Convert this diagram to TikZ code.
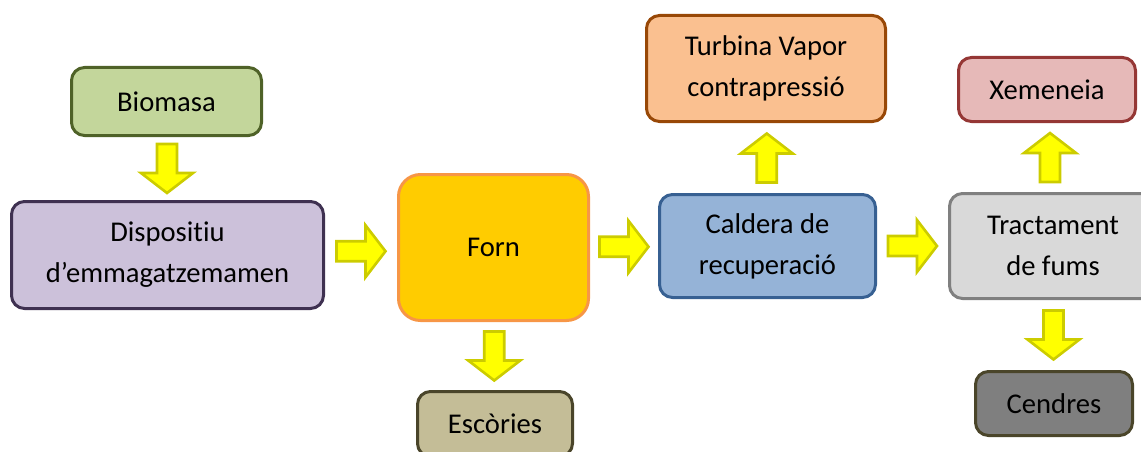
\documentclass[tikz,border=0pt]{standalone}
\usepackage{fontspec}
\setmainfont[Ligatures=NoCommon]{Carlito}
\usetikzlibrary{calc}

\definecolor{bioFill}{HTML}{C3D69B}\definecolor{bioLine}{HTML}{4F6228}
\definecolor{dispFill}{HTML}{CCC1DA}\definecolor{dispLine}{HTML}{3F3151}
\definecolor{fornFill}{HTML}{FFCC00}\definecolor{fornLine}{HTML}{F79646}
\definecolor{escFill}{HTML}{C4BD97}\definecolor{escLine}{HTML}{4A452A}
\definecolor{calFill}{HTML}{95B3D7}\definecolor{calLine}{HTML}{376092}
\definecolor{turFill}{HTML}{FAC090}\definecolor{turLine}{HTML}{984807}
\definecolor{traFill}{HTML}{D9D9D9}\definecolor{traLine}{HTML}{808080}
\definecolor{xemFill}{HTML}{E6B9B8}\definecolor{xemLine}{HTML}{953735}
\definecolor{cenFill}{HTML}{7F7F7F}\definecolor{cenLine}{HTML}{4A452A}
\definecolor{arrFill}{HTML}{FFFF00}\definecolor{arrLine}{HTML}{CCCC00}

\tikzset{
  box/.style={rectangle, rounded corners=13pt, line width=3pt, align=center,
    inner sep=0pt, text=black, font=\fontsize{28.6}{41}\selectfont},
  arrowstyle/.style={fill=arrFill, draw=arrLine, line width=2.6pt, line join=miter},
  blockarrow/.pic={
    \draw[arrowstyle] (-24.5,-10) -- (4.5,-10) -- (4.5,-26) -- (24.5,0)
      -- (4.5,26) -- (4.5,10) -- (-24.5,10) -- cycle;
  }
}

\begin{document}
\begin{tikzpicture}[x=1pt, y=-1pt]
\useasboundingbox (0,0) rectangle (1141,452);

% process boxes
\node[box, fill=bioFill, draw=bioLine, minimum width=190pt, minimum height=68pt]
  (bio) at (166.5,101.5) {Biomasa};
\node[box, fill=dispFill, draw=dispLine, minimum width=312pt, minimum height=107pt]
  (disp) at (167.5,255) {Dispositiu\\d’emmagatzemamen};
\node[box, fill=fornFill, draw=fornLine, rounded corners=22pt, minimum width=190pt, minimum height=146pt]
  (forn) at (493.5,247.5) {Forn};
\node[box, fill=escFill, draw=escLine, minimum width=155pt, minimum height=65pt]
  (esc) at (495,424) {Escòries};
\node[box, fill=calFill, draw=calLine, minimum width=216pt, minimum height=103pt]
  (cal) at (767.5,246) {Caldera de\\recuperació};
\node[box, fill=turFill, draw=turLine, minimum width=239pt, minimum height=106pt]
  (tur) at (766,68.5) {Turbina Vapor\\contrapressió};
\node[box, fill=traFill, draw=traLine, minimum width=207pt, minimum height=105pt]
  (tra) at (1053,246) {Tractament\\de fums};
\node[box, fill=xemFill, draw=xemLine, minimum width=177pt, minimum height=64pt]
  (xem) at (1047,89.5) {Xemeneia};
\node[box, fill=cenFill, draw=cenLine, minimum width=157pt, minimum height=64pt]
  (cen) at (1054,403.5) {Cendres};

% block arrows between boxes
\pic[rotate=-90] at ($(bio.south)!0.5!(disp.north)$) {blockarrow};
\pic at ($(disp.east)!0.5!(forn.west)$) {blockarrow};
\pic[rotate=-90] at ($(forn.south)!0.5!(esc.north)$) {blockarrow};
\pic at ($(forn.east)!0.5!(cal.west)$) {blockarrow};
\pic[rotate=90] at ($(cal.north)!0.5!(tur.south)$) {blockarrow};
\pic at ($(cal.east)!0.5!(tra.west)$) {blockarrow};
\pic[rotate=90] at ($(tra.north)!0.5!(xem.south)$) {blockarrow};
\pic[rotate=-90] at ($(tra.south)!0.5!(cen.north)$) {blockarrow};
\end{tikzpicture}
\end{document}
